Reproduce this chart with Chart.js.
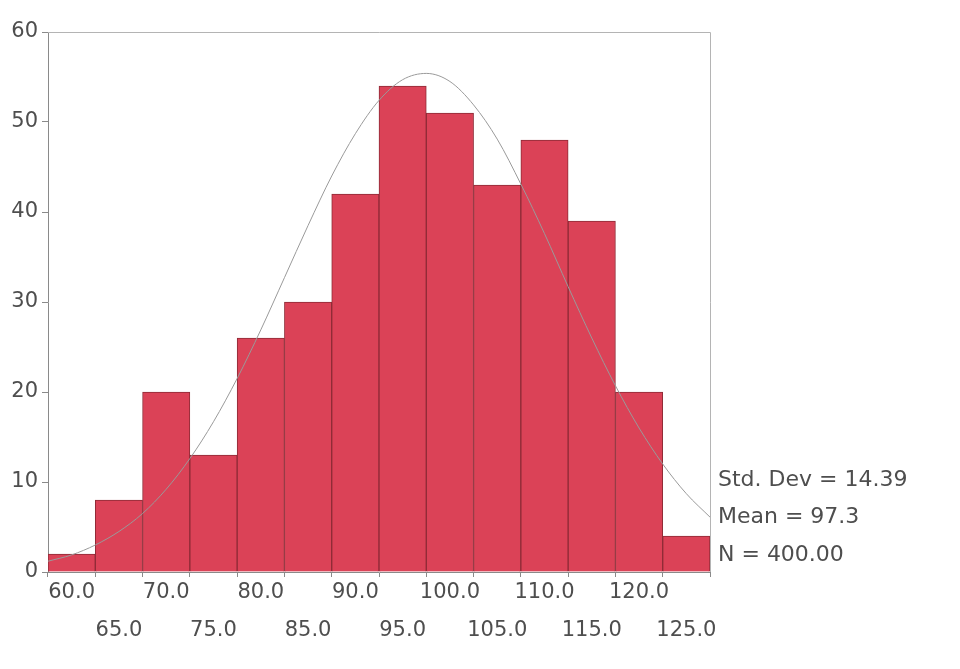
<!DOCTYPE html>
<html>
<head>
<meta charset="utf-8">
<script src="https://cdn.jsdelivr.net/npm/chart.js@4"></script>
<style>
  html, body { margin: 0; padding: 0; background: #ffffff; }
  #wrap { width: 960px; height: 669px; position: relative; }
</style>
</head>
<body>
<div id="wrap"><canvas id="c"></canvas></div>
<script>
// ---- data ----
const binCenters = [60, 65, 70, 75, 80, 85, 90, 95, 100, 105, 110, 115, 120, 125];
const counts     = [2, 8, 20, 13, 26, 30, 42, 54, 51, 43, 48, 39, 20, 4];

const curveX = [57.5, 60, 62.5, 65, 67.5, 70, 72.5, 75, 77.5, 80, 82.5, 85, 87.5, 90, 92.5, 95,
                97.5, 100, 102.5, 105, 107.5, 110, 112.5, 115, 117.5, 120, 122.5, 125, 127.5];
const curveY = [1.2, 1.9, 3.0, 4.5, 6.5, 9.2, 12.6, 16.7, 21.5, 26.9, 32.7, 38.5, 44.0, 48.7, 52.4, 54.7,
                55.4, 54.5, 51.9, 48.1, 43.1, 37.6, 31.7, 26.0, 20.7, 16.0, 12.0, 8.7, 6.1];

const xTickValues = [60, 65, 70, 75, 80, 85, 90, 95, 100, 105, 110, 115, 120, 125];
const xRow1 = [60, 70, 80, 90, 100, 110, 120];
const yTickValues = [0, 10, 20, 30, 40, 50, 60];

const statsLines = ["Std. Dev = 14.39", "Mean = 97.3", "N = 400.00"];

const FONT = "'DejaVu Sans', sans-serif";
const TEXT = "#4e4e4e";

const framePlugin = {
  id: 'frame',
  afterDatasetsDraw(chart) {
    const { ctx, chartArea: a } = chart;
    ctx.save();
    ctx.lineWidth = 1;
    ctx.strokeStyle = '#b4b4b4';
    ctx.beginPath();
    ctx.moveTo(a.left, a.top + 0.5);
    ctx.lineTo(a.right + 0.5, a.top + 0.5);
    ctx.lineTo(a.right + 0.5, a.bottom);
    ctx.stroke();
    ctx.restore();
  },
  afterDraw(chart) {
    const { ctx, chartArea: a } = chart;
    ctx.save();
    ctx.fillStyle = TEXT;
    ctx.font = "22px " + FONT;
    ctx.textAlign = 'left';
    ctx.textBaseline = 'middle';
    const offs = [92, 55, 17];
    statsLines.forEach((t, i) => ctx.fillText(t, a.right + 8, a.bottom - offs[i]));
    ctx.restore();
  }
};

new Chart(document.getElementById('c'), {
  data: {
    datasets: [
      {
        type: 'line',
        data: curveX.map((x, i) => ({ x: x, y: curveY[i] })),
        borderColor: '#9a9a9a',
        borderWidth: 1,
        pointRadius: 0,
        cubicInterpolationMode: 'monotone',
        fill: false,
        order: 0
      },
      {
        type: 'bar',
        data: binCenters.map((x, i) => ({ x: x, y: counts[i] })),
        backgroundColor: '#db4257',
        borderColor: '#8e2b36',
        borderWidth: 1,
        barPercentage: 1.0,
        categoryPercentage: 1.0,
        order: 1
      }
    ]
  },
  options: {
    responsive: true,
    maintainAspectRatio: false,
    animation: false,
    layout: { padding: { left: 0, right: 250, top: 32, bottom: 0 } },
    plugins: { legend: { display: false }, tooltip: { enabled: false } },
    scales: {
      x: {
        type: 'linear',
        min: 57.5,
        max: 127.5,
        offset: false,
        afterBuildTicks(scale) { scale.ticks = xTickValues.map(v => ({ value: v })); },
        afterFit(scale) { scale.height = 97; },
        grid: { drawOnChartArea: false, drawTicks: true, tickLength: 5, color: '#8a8a8a' },
        border: { display: true, color: '#8a8a8a' },
        ticks: {
          autoSkip: false,
          maxRotation: 0,
          minRotation: 0,
          padding: -3,
          color: TEXT,
          font: { family: FONT, size: 21, lineHeight: '38px' },
          callback(v) {
            const s = Number(v).toFixed(1);
            return xRow1.includes(Number(v)) ? [s] : ['', s];
          }
        }
      },
      y: {
        min: 0,
        max: 60,
        afterBuildTicks(scale) { scale.ticks = yTickValues.map(v => ({ value: v })); },
        afterFit(scale) { scale.width = 48; },
        grid: { drawOnChartArea: false, drawTicks: true, tickLength: 6, color: '#8a8a8a' },
        border: { display: true, color: '#8a8a8a' },
        ticks: {
          padding: 4,
          color: TEXT,
          font: { family: FONT, size: 21 }
        }
      }
    }
  },
  plugins: [framePlugin]
});
</script>
</body>
</html>
